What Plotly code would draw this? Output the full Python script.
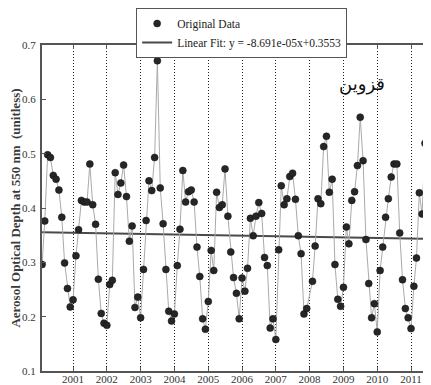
import pandas as pd
import plotly.graph_objects as go

# Monthly AOD values (first of month)
aod_2000 = [0.296, 0.376, 0.498, 0.493, 0.460, 0.453, 0.433, 0.383, 0.299, 0.252, 0.218]  # Feb-Dec
aod_2001 = [0.231, 0.312, 0.360, 0.414, 0.411, 0.411, 0.481, 0.406, 0.370, 0.269, 0.206, 0.188]
aod_2002 = [0.184, 0.259, 0.267, 0.465, 0.425, 0.446, 0.479, 0.421, 0.339, 0.367, 0.217, 0.236]
aod_2003 = [0.198, 0.287, 0.377, 0.450, 0.432, 0.493, 0.671, 0.437, 0.371, 0.287, 0.210, 0.192]
aod_2004 = [0.205, 0.294, 0.361, 0.469, 0.411, 0.430, 0.433, 0.411, 0.328, 0.274, 0.196, 0.177]
aod_2005 = [0.228, 0.322, 0.285, 0.429, 0.401, 0.406, 0.472, 0.385, 0.319, 0.272, 0.243, 0.196]
aod_2006 = [0.271, 0.247, 0.289, 0.381, 0.349, 0.385, 0.410, 0.390, 0.309, 0.294, 0.179, 0.196]
aod_2007 = [0.158, 0.323, 0.441, 0.406, 0.417, 0.458, 0.464, 0.416, 0.349, 0.316, 0.205, 0.215]
aod_2008 = [0.265, 0.330, 0.417, 0.408, 0.513, 0.532, 0.429, 0.453, 0.296, 0.232, 0.219]  # Feb-Dec
aod_2009 = [0.254, 0.365, 0.334, 0.414, 0.430, 0.478, 0.567, 0.487, 0.342, 0.261, 0.198, 0.224]
aod_2010 = [0.172, 0.285, 0.328, 0.383, 0.417, 0.457, 0.481, 0.481, 0.354, 0.268, 0.215, 0.198]
aod_2011 = [0.178, 0.256, 0.308, 0.428, 0.389, 0.519, 0.501, 0.420, 0.337]  # Jan-Sep

start_month = {2000: 2, 2008: 2}
years = [(2000, aod_2000), (2001, aod_2001), (2002, aod_2002), (2003, aod_2003),
         (2004, aod_2004), (2005, aod_2005), (2006, aod_2006), (2007, aod_2007),
         (2008, aod_2008), (2009, aod_2009), (2010, aod_2010), (2011, aod_2011)]

dates, values = [], []
for yr, vals in years:
    m0 = start_month.get(yr, 1)
    for i, v in enumerate(vals):
        dates.append(pd.Timestamp(year=yr, month=m0 + i, day=1))
        values.append(v)

# Linear fit from legend: x = month index from first month
fit_slope = -8.691e-05
fit_intercept = 0.3553
fit_label = "Linear Fit: y = -8.691e-05x+0.3553"
month_idx = [(d.year - dates[0].year) * 12 + d.month - dates[0].month for d in dates]
fit_x = [dates[0], dates[-1]]
fit_y = [fit_slope * month_idx[0] + fit_intercept, fit_slope * month_idx[-1] + fit_intercept]

city = "قزوین"
y_title = "Aerosol Optical Depth at 550 nm  (unitless)"

serif = "Liberation Serif, Times New Roman, serif"

fig = go.Figure()
fig.add_trace(go.Scatter(x=fit_x, y=fit_y, mode="lines", name=fit_label,
                         line=dict(color="#4a4a4a", width=2), legendrank=2))
fig.add_trace(go.Scatter(x=dates, y=values, mode="lines", showlegend=False,
                         line=dict(color="#aaaaaa", width=1), hoverinfo="skip"))
fig.add_trace(go.Scatter(x=dates, y=values, mode="markers", name="Original Data",
                         marker=dict(size=7, color="#262626", line=dict(color="#111111", width=0.5)),
                         legendrank=1))

# the page body has an 8px margin, so offsets below compensate for it
fig.update_layout(
    width=423, height=377,
    margin=dict(l=34, r=0, t=36, b=14),
    paper_bgcolor="white", plot_bgcolor="white",
    font=dict(family=serif, size=11, color="#333333"),
    showlegend=True,
    legend=dict(x=0.242, y=1.112, xanchor="left", yanchor="top",
                bgcolor="white", bordercolor="#555555", borderwidth=1,
                font=dict(family=serif, size=11.5, color="#222222"),
                tracegroupgap=0, itemwidth=30),
    xaxis=dict(
        type="date", range=["2000-01-31", "2011-08-05"],
        tick0="2001-01-01", dtick="M12", tickformat="%Y",
        showgrid=True, gridcolor="#222222", gridwidth=1, griddash="1px,2px",
        showline=True, linecolor="#555555", linewidth=2, mirror="ticks",
        ticks="inside", ticklen=4, tickcolor="#555555",
        zeroline=False, ticklabelstandoff=-3,
        tickfont=dict(family=serif, size=11, color="#333333"),
    ),
    yaxis=dict(
        range=[0.1, 0.7], dtick=0.1, tickformat=".1f",
        showgrid=False, zeroline=False,
        showline=True, linecolor="#555555", linewidth=2, mirror=False,
        ticks="inside", ticklen=4, tickcolor="#555555", ticklabelstandoff=2,
        tickfont=dict(family=serif, size=11, color="#333333"),
        title=dict(text=y_title, standoff=4,
                   font=dict(family=serif, size=13, color="#3a3a3a", weight="bold")),
    ),
    shapes=[dict(type="rect", xref="paper", yref="paper", x0=0.64, x1=1.0,
                 y0=0.829, y1=0.985, fillcolor="white", line=dict(width=0),
                 layer="between")],
    annotations=[dict(text=city, xref="paper", yref="paper", x=0.823, y=0.881,
                      xanchor="center", yanchor="middle", showarrow=False,
                      font=dict(family="DejaVu Sans", size=18, color="#111111"))],
)

fig.write_html("out.html")
